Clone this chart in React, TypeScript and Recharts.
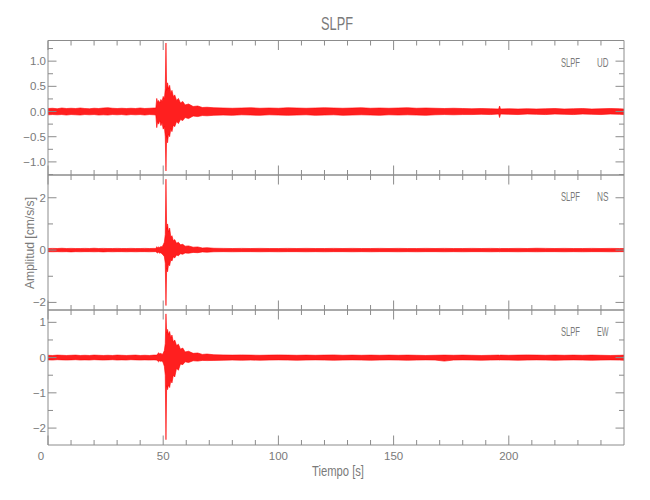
import React from 'react';
import { ComposedChart, Area, XAxis, YAxis } from 'recharts';

// ---- time axis (seconds) ----
const timeS = [
  0, 2, 4, 6, 8, 10, 12, 14, 16, 18, 20, 22, 24, 26, 28, 30, 32, 34, 36, 38, 40, 42, 44, 46,
  46.8, 47.2, 47.6, 48, 48.5, 49, 49.5, 50, 50.5, 50.9, 51.2, 51.5, 51.9, 52.3, 52.8, 53.3, 53.8, 54.4, 55, 55.8, 56.6, 57.5, 58.5, 59.5, 61, 63, 65, 67, 69,
  72, 76, 80, 84, 88, 92, 96, 100, 104, 108, 112, 116, 120, 124, 128, 132, 136, 140, 144, 148, 152, 156, 160, 164, 168, 172, 176, 180, 184, 188, 192,
  195.6, 196, 196.4,
  200, 204, 208, 212, 216, 220, 224, 228, 232, 236, 240, 244, 248, 250,
];

// ---- UD component envelope (cm/s/s) ----
const udHigh = [
  0.06, 0.065, 0.055, 0.07, 0.06, 0.065, 0.06, 0.07, 0.06, 0.055, 0.065, 0.06, 0.07, 0.075, 0.065, 0.06, 0.065, 0.06, 0.065, 0.06, 0.07, 0.06, 0.065, 0.07,
  0.07, 0.26, 0.18, 0.22, 0.17, 0.24, 0.2, 0.3, 0.25, 0.45, 1.36, 0.42, 0.57, 0.45, 0.52, 0.36, 0.42, 0.3, 0.33, 0.22, 0.26, 0.17, 0.2, 0.13, 0.15, 0.1, 0.11, 0.08, 0.085,
  0.075, 0.07, 0.065, 0.07, 0.075, 0.065, 0.07, 0.065, 0.075, 0.07, 0.065, 0.07, 0.075, 0.07, 0.065, 0.07, 0.075, 0.065, 0.07, 0.065, 0.07, 0.075, 0.065, 0.07, 0.065, 0.06, 0.065, 0.06, 0.055, 0.06, 0.055,
  0.05, 0.11, 0.05,
  0.055, 0.05, 0.055, 0.05, 0.055, 0.06, 0.05, 0.055, 0.06, 0.05, 0.055, 0.06, 0.055, 0.05,
];
const udLow = [
  -0.065, -0.06, -0.065, -0.06, -0.07, -0.06, -0.065, -0.07, -0.06, -0.065, -0.06, -0.07, -0.065, -0.07, -0.06, -0.065, -0.06, -0.07, -0.06, -0.065, -0.06, -0.07, -0.06, -0.065,
  -0.07, -0.32, -0.2, -0.25, -0.18, -0.28, -0.22, -0.35, -0.3, -0.5, -1.18, -0.48, -0.62, -0.45, -0.5, -0.34, -0.4, -0.27, -0.3, -0.2, -0.24, -0.16, -0.18, -0.12, -0.14, -0.09, -0.1, -0.08, -0.085,
  -0.075, -0.07, -0.075, -0.065, -0.07, -0.075, -0.065, -0.07, -0.075, -0.07, -0.065, -0.075, -0.07, -0.065, -0.075, -0.07, -0.065, -0.07, -0.075, -0.065, -0.07, -0.065, -0.07, -0.075, -0.065, -0.06, -0.065, -0.06, -0.06, -0.055, -0.06,
  -0.05, -0.12, -0.05,
  -0.055, -0.06, -0.05, -0.055, -0.06, -0.05, -0.055, -0.06, -0.05, -0.055, -0.06, -0.05, -0.055, -0.06,
];

// ---- NS component envelope ----
const nsHigh = [
  0.06, 0.065, 0.06, 0.07, 0.06, 0.065, 0.06, 0.06, 0.065, 0.06, 0.07, 0.06, 0.065, 0.06, 0.06, 0.065, 0.06, 0.06, 0.065, 0.06, 0.06, 0.065, 0.06, 0.065,
  0.06, 0.13, 0.09, 0.12, 0.1, 0.14, 0.12, 0.2, 0.3, 0.6, 2.71, 0.8, 1.0, 0.7, 0.84, 0.5, 0.55, 0.36, 0.4, 0.26, 0.3, 0.2, 0.22, 0.15, 0.16, 0.11, 0.12, 0.08, 0.09,
  0.07, 0.065, 0.06, 0.065, 0.06, 0.065, 0.06, 0.06, 0.065, 0.06, 0.065, 0.06, 0.06, 0.065, 0.06, 0.065, 0.06, 0.06, 0.065, 0.06, 0.065, 0.06, 0.06, 0.065, 0.06, 0.065, 0.06, 0.06, 0.065, 0.06, 0.065,
  0.06, 0.065, 0.06,
  0.06, 0.065, 0.06, 0.07, 0.065, 0.06, 0.065, 0.06, 0.06, 0.065, 0.06, 0.065, 0.06, 0.06,
];
const nsLow = [
  -0.06, -0.065, -0.06, -0.065, -0.06, -0.07, -0.06, -0.065, -0.06, -0.06, -0.065, -0.06, -0.07, -0.06, -0.065, -0.06, -0.06, -0.065, -0.06, -0.065, -0.06, -0.06, -0.065, -0.06,
  -0.06, -0.09, -0.11, -0.08, -0.12, -0.1, -0.15, -0.19, -0.25, -0.5, -2.12, -0.7, -0.83, -0.55, -0.6, -0.36, -0.42, -0.26, -0.3, -0.19, -0.22, -0.14, -0.16, -0.11, -0.12, -0.09, -0.1, -0.07, -0.08,
  -0.065, -0.06, -0.065, -0.06, -0.06, -0.065, -0.06, -0.065, -0.06, -0.06, -0.065, -0.06, -0.065, -0.06, -0.06, -0.065, -0.06, -0.065, -0.06, -0.06, -0.065, -0.06, -0.065, -0.06, -0.06, -0.065, -0.06, -0.065, -0.06, -0.06, -0.065,
  -0.06, -0.065, -0.06,
  -0.06, -0.065, -0.06, -0.065, -0.06, -0.06, -0.065, -0.06, -0.065, -0.06, -0.06, -0.065, -0.06, -0.06,
];

// ---- EW component envelope ----
const ewHigh = [
  0.065, 0.06, 0.07, 0.065, 0.06, 0.065, 0.07, 0.06, 0.065, 0.06, 0.07, 0.065, 0.06, 0.065, 0.06, 0.07, 0.065, 0.06, 0.065, 0.07, 0.06, 0.065, 0.06, 0.07,
  0.07, 0.07, 0.1, 0.14, 0.1, 0.12, 0.09, 0.12, 0.2, 0.4, 1.24, 0.7, 0.8, 0.66, 0.74, 0.56, 0.64, 0.44, 0.5, 0.34, 0.38, 0.24, 0.27, 0.16, 0.18, 0.12, 0.13, 0.09, 0.1,
  0.08, 0.075, 0.07, 0.075, 0.07, 0.065, 0.07, 0.075, 0.07, 0.065, 0.07, 0.065, 0.07, 0.075, 0.065, 0.07, 0.065, 0.07, 0.065, 0.07, 0.065, 0.07, 0.065, 0.06, 0.065, 0.07, 0.065, 0.07, 0.065, 0.06, 0.065,
  0.07, 0.065, 0.07,
  0.065, 0.07, 0.075, 0.07, 0.065, 0.07, 0.065, 0.07, 0.065, 0.07, 0.065, 0.06, 0.065, 0.07,
];
const ewLow = [
  -0.065, -0.07, -0.06, -0.065, -0.07, -0.065, -0.06, -0.07, -0.065, -0.07, -0.06, -0.065, -0.07, -0.065, -0.06, -0.07, -0.065, -0.07, -0.06, -0.065, -0.07, -0.065, -0.07, -0.065,
  -0.07, -0.07, -0.1, -0.12, -0.09, -0.11, -0.09, -0.15, -0.25, -0.5, -2.33, -0.8, -0.91, -0.78, -0.85, -0.65, -0.72, -0.5, -0.55, -0.3, -0.36, -0.18, -0.2, -0.12, -0.14, -0.09, -0.1, -0.08, -0.085,
  -0.08, -0.075, -0.07, -0.075, -0.07, -0.075, -0.07, -0.065, -0.07, -0.075, -0.07, -0.065, -0.07, -0.075, -0.07, -0.065, -0.07, -0.075, -0.07, -0.065, -0.07, -0.075, -0.07, -0.065, -0.07, -0.1, -0.07, -0.065, -0.07, -0.075, -0.07,
  -0.065, -0.07, -0.065,
  -0.07, -0.075, -0.07, -0.065, -0.07, -0.075, -0.07, -0.065, -0.07, -0.075, -0.07, -0.065, -0.07, -0.075,
];

// ---- ticks ----
const xTicks = [0, 10, 20, 30, 40, 50, 60, 70, 80, 90, 100, 110, 120, 130, 140, 150, 160, 170, 180, 190, 200, 210, 220, 230, 240];
const udTicks = [-1.25, -1, -0.75, -0.5, -0.25, 0, 0.25, 0.5, 0.75, 1, 1.25];
const nsTicks = [-2, -1, 0, 1, 2];
const ewTicks = [-2, -1.5, -1, -0.5, 0, 0.5, 1];

const titleText = 'SLPF';
const stationName = 'SLPF';
const componentNames = ['UD', 'NS', 'EW'];
const yLabelText = 'Amplitud [cm/s/s]';
const xLabelText = 'Tiempo [s]';

const W = 650;
const H = 500;
const PLOT_L = 48;
const PLOT_R = 624;
const AX = 1; // axis box thickness reserved by recharts
const LINE = '#8c8c8c';
const TEXT = '#7a7a7a';
const FONT = "'Liberation Sans', Arial, sans-serif";

const isMajor = (v: number, step: number) => Math.abs(v / step - Math.round(v / step)) < 1e-6;
const fmt = (v: number, dec: number) => {
  const s = Math.abs(v).toFixed(dec);
  return v < -1e-9 ? '\u2212' + s : s;
};

function buildRows(lo: number[], hi: number[]) {
  const n = Math.min(timeS.length, lo.length, hi.length);
  const rows: { t: number; band: [number, number] }[] = [];
  for (let i = 0; i < n; i++) rows.push({ t: timeS[i], band: [lo[i], hi[i]] });
  return rows;
}

function XTick(props: any) {
  const { x, y, payload, side, showLabel } = props;
  const v = payload.value as number;
  const major = isMajor(v, 50);
  const len = major ? 9.5 : 5;
  const dir = side === 'bottom' ? -1 : 1;
  return (
    <g>
      <line x1={x} x2={x} y1={y} y2={y + dir * len} stroke={LINE} strokeWidth={1} />
      {showLabel && major && (
        <text x={v === 0 ? x - 7 : x} y={y + 14.5} textAnchor="middle" fontSize={11.5} fill={TEXT} fontFamily={FONT}>
          {String(v)}
        </text>
      )}
    </g>
  );
}

function YTick(props: any) {
  const { x, y, payload, side, step, dec } = props;
  const v = payload.value as number;
  const major = isMajor(v, step);
  const len = major ? 8.5 : 5;
  const dir = side === 'left' ? 1 : -1;
  return (
    <g>
      <line x1={x} x2={x + dir * len} y1={y} y2={y} stroke={LINE} strokeWidth={1} />
      {side === 'left' && major && (
        <text x={x - 2} y={y + 4} textAnchor="end" fontSize={11.5} fill={TEXT} fontFamily={FONT}>
          {fmt(v, dec)}
        </text>
      )}
    </g>
  );
}

type PanelProps = {
  top: number;
  bottom: number;
  lo: number[];
  hi: number[];
  yDomain: [number, number];
  yTicks: number[];
  yStep: number;
  yDec: number;
  showX: boolean;
};

function Panel({ top, bottom, lo, hi, yDomain, yTicks, yStep, yDec, showX }: PanelProps) {
  const data = buildRows(lo, hi);
  return (
    <div style={{ position: 'absolute', left: 0, top: 0 }}>
      <ComposedChart
        width={W}
        height={H}
        data={data}
        margin={{ top: top - AX, bottom: H - bottom - AX, left: PLOT_L - AX, right: W - PLOT_R - AX }}
      >
        <XAxis
          xAxisId="b"
          dataKey="t"
          type="number"
          domain={[0, 250]}
          allowDataOverflow
          ticks={xTicks}
          interval={0}
          orientation="bottom"
          height={AX}
          tickSize={0}
          tickMargin={0}
          tickLine={false}
          axisLine={{ stroke: LINE }}
          tick={(p: any) => <XTick {...p} side="bottom" showLabel={showX} />}
        />
        <XAxis
          xAxisId="t"
          dataKey="t"
          type="number"
          domain={[0, 250]}
          allowDataOverflow
          ticks={xTicks}
          interval={0}
          orientation="top"
          height={AX}
          tickSize={0}
          tickMargin={0}
          tickLine={false}
          axisLine={{ stroke: LINE }}
          tick={(p: any) => <XTick {...p} side="top" showLabel={false} />}
        />
        <YAxis
          yAxisId="l"
          type="number"
          domain={yDomain}
          allowDataOverflow
          ticks={yTicks}
          interval={0}
          orientation="left"
          width={AX}
          tickSize={0}
          tickMargin={0}
          tickLine={false}
          axisLine={{ stroke: LINE }}
          tick={(p: any) => <YTick {...p} side="left" step={yStep} dec={yDec} />}
        />
        <YAxis
          yAxisId="r"
          type="number"
          domain={yDomain}
          allowDataOverflow
          ticks={yTicks}
          interval={0}
          orientation="right"
          width={AX}
          tickSize={0}
          tickMargin={0}
          tickLine={false}
          axisLine={{ stroke: LINE }}
          tick={(p: any) => <YTick {...p} side="right" step={yStep} dec={yDec} />}
        />
        <Area
          xAxisId="b"
          yAxisId="l"
          dataKey="band"
          type="linear"
          stroke="#ff0000"
          strokeWidth={0.6}
          fill="#ff0000"
          fillOpacity={0.88}
          dot={false}
          activeDot={false}
          isAnimationActive={false}
        />
      </ComposedChart>
    </div>
  );
}

const panelTops = [40.5, 175, 310];
const panelBottoms = [175, 310, 445];

export default function App() {
  return (
    <div style={{ position: 'absolute', left: 0, top: 0, width: W, height: H, background: '#fff' }}>
      <Panel top={panelTops[0]} bottom={panelBottoms[0]} lo={udLow} hi={udHigh} yDomain={[-1.26, 1.41]} yTicks={udTicks} yStep={0.5} yDec={1} showX={false} />
      <Panel top={panelTops[1]} bottom={panelBottoms[1]} lo={nsLow} hi={nsHigh} yDomain={[-2.29, 2.87]} yTicks={nsTicks} yStep={2} yDec={0} showX={false} />
      <Panel top={panelTops[2]} bottom={panelBottoms[2]} lo={ewLow} hi={ewHigh} yDomain={[-2.48, 1.35]} yTicks={ewTicks} yStep={1} yDec={0} showX={true} />
      <svg width={W} height={H} style={{ position: 'absolute', left: 0, top: 0, pointerEvents: 'none' }}>
        <text x={337} y={30} textAnchor="middle" fontSize={19} fill={TEXT} fontFamily={FONT} textLength={32} lengthAdjust="spacingAndGlyphs">
          {titleText}
        </text>
        {componentNames.map((c, i) => (
          <g key={c}>
            <text x={561} y={panelTops[i] + 26} fontSize={13.5} fill={TEXT} fontFamily={FONT} textLength={19} lengthAdjust="spacingAndGlyphs">
              {stationName}
            </text>
            <text x={597} y={panelTops[i] + 26} fontSize={13.5} fill={TEXT} fontFamily={FONT} textLength={11.5} lengthAdjust="spacingAndGlyphs">
              {c}
            </text>
          </g>
        ))}
        <text
          x={0}
          y={0}
          transform="translate(34,243) rotate(-90)"
          textAnchor="middle"
          fontSize={13}
          fill={TEXT}
          fontFamily={FONT}
          textLength={92}
          lengthAdjust="spacingAndGlyphs"
        >
          {yLabelText}
        </text>
        <text x={338} y={476} textAnchor="middle" fontSize={14} fill={TEXT} fontFamily={FONT} textLength={52} lengthAdjust="spacingAndGlyphs">
          {xLabelText}
        </text>
      </svg>
    </div>
  );
}
